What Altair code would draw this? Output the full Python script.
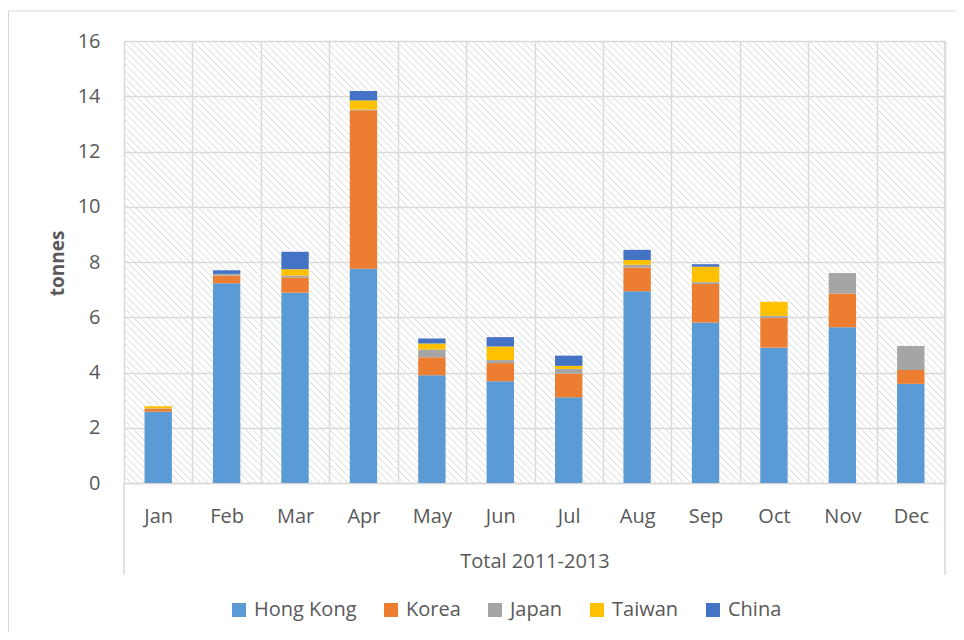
import altair as alt
import pandas as pd

months = ["Jan", "Feb", "Mar", "Apr", "May", "Jun", "Jul", "Aug", "Sep", "Oct", "Nov", "Dec"]
countries = ["Hong Kong", "Korea", "Japan", "Taiwan", "China"]
colors = ["#5B9BD5", "#ED7D31", "#A5A5A5", "#FFC000", "#4472C4"]

hong_kong = [2.58, 7.23, 6.89, 7.76, 3.90, 3.68, 3.10, 6.94, 5.81, 4.90, 5.64, 3.59]
korea = [0.10, 0.28, 0.55, 5.73, 0.65, 0.66, 0.86, 0.86, 1.39, 1.08, 1.22, 0.50]
japan = [0.02, 0.06, 0.07, 0.03, 0.28, 0.11, 0.17, 0.10, 0.07, 0.07, 0.74, 0.87]
taiwan = [0.08, 0.00, 0.23, 0.33, 0.22, 0.49, 0.11, 0.17, 0.56, 0.51, 0.00, 0.00]
china = [0.00, 0.13, 0.63, 0.34, 0.18, 0.34, 0.37, 0.37, 0.09, 0.00, 0.00, 0.00]

series = [hong_kong, korea, japan, taiwan, china]
rows = []
for i, m in enumerate(months):
    for k, c in enumerate(countries):
        rows.append({"month": m, "country": c, "value": series[k][i], "order": k})
df = pd.DataFrame(rows)

FONT = "Open Sans"
TXT = "#595959"
GRID = "#d9d9d9"
W, H = 821, 442

y_scale = alt.Scale(domain=[0, 16], nice=False, zero=True)
y_axis = alt.Axis(
    values=list(range(0, 17, 2)), grid=True, gridColor=GRID, gridWidth=1.5,
    domain=False, ticks=False, tickSize=0, labelPadding=24,
    labelFont=FONT, labelFontSize=20, labelColor=TXT,
    title="tonnes", titleFont=FONT, titleFontSize=19, titleFontWeight="bold",
    titleColor=TXT, titleX=-61, titleY=222, titleAlign="center",
    titleBaseline="alphabetic",
)
x_axis = alt.Axis(
    title="Total 2011-2013", labelAngle=0, labelFont=FONT, labelFontSize=20,
    labelColor=TXT, labelBaseline="alphabetic", labelPadding=39,
    ticks=False, tickSize=0, grid=True, gridColor=GRID, gridWidth=1.5,
    tickBand="extent", domainColor=GRID, domainWidth=1.5,
    titleFont=FONT, titleFontSize=20, titleFontWeight="normal", titleColor=TXT,
    titleY=84, titleBaseline="alphabetic",
)

hatch = alt.Chart(alt.sequence(-H, W + 7, 7, as_="x0")).transform_calculate(
    x1=f"datum.x0 + {H}", top="16", bot="0"
).mark_rule(clip=True, color="#dcdcdc", strokeWidth=1).encode(
    x=alt.X("x0:Q", scale=alt.Scale(domain=[0, W], nice=False, zero=False), axis=None),
    x2="x1:Q",
    y=alt.Y("top:Q", scale=y_scale, axis=y_axis),
    y2="bot:Q",
)

bars = alt.Chart(df).mark_bar(width=alt.RelativeBandSize(0.4)).encode(
    x=alt.X("month:N", sort=months, scale=alt.Scale(paddingInner=0, paddingOuter=0), axis=x_axis),
    y=alt.Y("value:Q", stack="zero", scale=y_scale, axis=y_axis),
    color=alt.Color(
        "country:N", sort=countries,
        scale=alt.Scale(domain=countries, range=colors),
        legend=alt.Legend(
            orient="none", legendX=105, legendY=559, direction="horizontal",
            title=None, symbolType="square", symbolSize=196, symbolStrokeWidth=0,
            labelFont=FONT, labelFontSize=20, labelColor=TXT, labelOffset=5,
            columnPadding=24, padding=0,
        ),
    ),
    order=alt.Order("order:Q", sort="ascending"),
)

deco = alt.Data(values=[{}])
top_border = alt.Chart(deco).mark_rule(color=GRID, strokeWidth=1).encode(
    x=alt.value(-116), x2=alt.value(W + 11), y=alt.value(-30))
left_border = alt.Chart(deco).mark_rule(color=GRID, strokeWidth=1).encode(
    x=alt.value(-115.5), y=alt.value(-30), y2=alt.value(H + 160))
left_bracket = alt.Chart(deco).mark_rule(color=GRID, strokeWidth=1.5).encode(
    x=alt.value(0), y=alt.value(H), y2=alt.value(H + 92))
right_bracket = alt.Chart(deco).mark_rule(color=GRID, strokeWidth=1.5).encode(
    x=alt.value(W), y=alt.value(0), y2=alt.value(H + 92))

chart = alt.layer(hatch, bars, top_border, left_border, left_bracket, right_bracket).resolve_scale(
    x="independent"
).resolve_axis(x="independent").properties(
    width=W, height=H,
    padding={"left": 116, "top": 33, "right": 11, "bottom": 149},
    autosize=alt.AutoSizeParams(type="none"),
).configure_view(stroke=None).configure(background="white")

chart.save("out.html", embed_options={"renderer": "svg", "actions": False})
